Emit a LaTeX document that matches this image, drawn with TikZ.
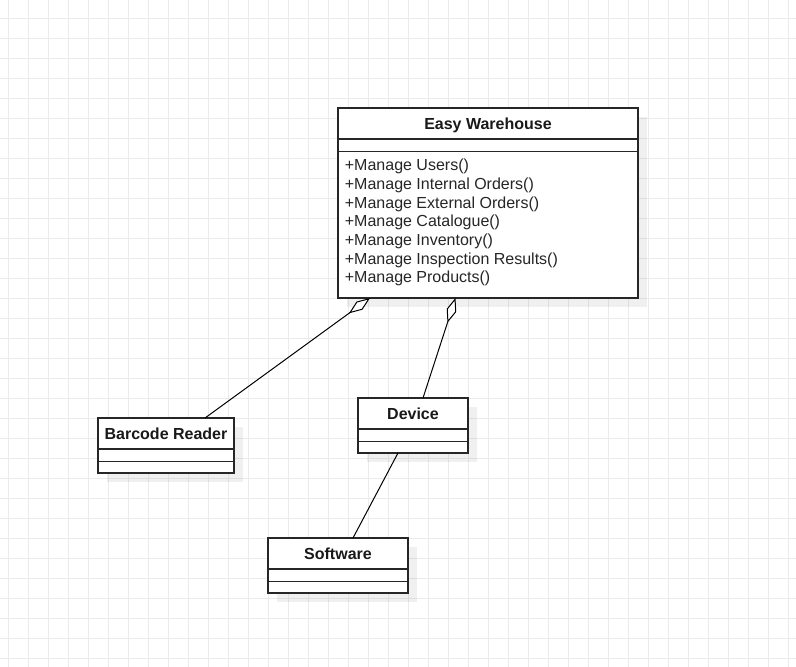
\documentclass[tikz,border=0pt]{standalone}
\usepackage{fontspec}
\setmainfont{Liberation Sans}
\usetikzlibrary{arrows.meta}
\begin{document}
\begin{tikzpicture}[x=1pt,y=-1pt,
  gridline/.style={draw=black!8,line width=0.9pt},
  classbox/.style={draw=black!85,line width=1.2pt,fill=white,rectangle,inner sep=0pt,outer sep=0pt},
  shadowbox/.style={fill=black,fill opacity=0.06,draw=none},
  divider/.style={draw=black!85,line width=1.2pt},
  titletext/.style={font=\fontsize{16}{19}\selectfont\bfseries,text=black!90,inner sep=0pt,anchor=base},
  methodtext/.style={font=\fontsize{16}{19}\selectfont,text=black!85,inner sep=0pt,anchor=base west},
  assoc/.style={draw=black,line width=1pt},
  aggr/.style={assoc,-{Diamond[fill=white,length=26pt,width=10pt]}}
]
\useasboundingbox (0,0) rectangle (796,667);
\fill[white] (0,0) rectangle (796,667);
% grid
\foreach \gx in {8.5,28.5,...,796} \draw[gridline] (\gx,0) -- (\gx,667);
\foreach \gy in {18.5,38.5,...,667} \draw[gridline] (0,\gy) -- (796,\gy);
% shadows
\fill[shadowbox] (346.5,116.5) rectangle (646.5,306.5);
\fill[shadowbox] (106.5,426.5) rectangle (242.5,481.5);
\fill[shadowbox] (366.5,406.5) rectangle (476.5,461.5);
\fill[shadowbox] (276.5,546.5) rectangle (416.5,601.5);
% class boxes
\node[classbox,minimum width=300pt,minimum height=190pt] (ew) at (488,203) {};
\node[classbox,minimum width=136pt,minimum height=55pt] (br) at (166,445.5) {};
\node[classbox,minimum width=110pt,minimum height=55pt] (dev) at (413,425.5) {};
\node[classbox,minimum width=140pt,minimum height=55pt] (sw) at (338,565.5) {};
% dividers
\foreach \b in {ew,br,dev,sw}{
  \draw[divider] ([yshift=-31pt]\b.north west) -- ([yshift=-31pt]\b.north east);
  \draw[divider] ([yshift=-43.6pt]\b.north west) -- ([yshift=-43.6pt]\b.north east);
}
% titles
\node[titletext] (ewt) at ([yshift=-21.3pt]ew.north) {Easy Warehouse};
\node[titletext] (brt) at ([yshift=-21pt]br.north) {Barcode Reader};
\node[titletext] (devt) at ([yshift=-21pt]dev.north) {Device};
\node[titletext] (swt) at ([yshift=-21pt]sw.north) {Software};
% methods
\node[methodtext] (m1) at (344.7,170.7) {+Manage Users()};
\node[methodtext] (m2) at (344.7,189.4) {+Manage Internal Orders()};
\node[methodtext] (m3) at (344.7,208.0) {+Manage External Orders()};
\node[methodtext] (m4) at (344.7,226.7) {+Manage Catalogue()};
\node[methodtext] (m5) at (344.7,245.4) {+Manage Inventory()};
\node[methodtext] (m6) at (344.7,264.0) {+Manage Inspection Results()};
\node[methodtext] (m7) at (344.7,282.7) {+Manage Products()};
% connectors
\draw[aggr] ([xshift=107pt]br.north west) -- ([xshift=32pt]ew.south west);
\draw[aggr] ([xshift=65pt]dev.north west) -- ([xshift=117.5pt]ew.south west);
\draw[assoc] ([xshift=40pt]dev.south west) -- ([xshift=85pt]sw.north west);
\end{tikzpicture}
\end{document}
